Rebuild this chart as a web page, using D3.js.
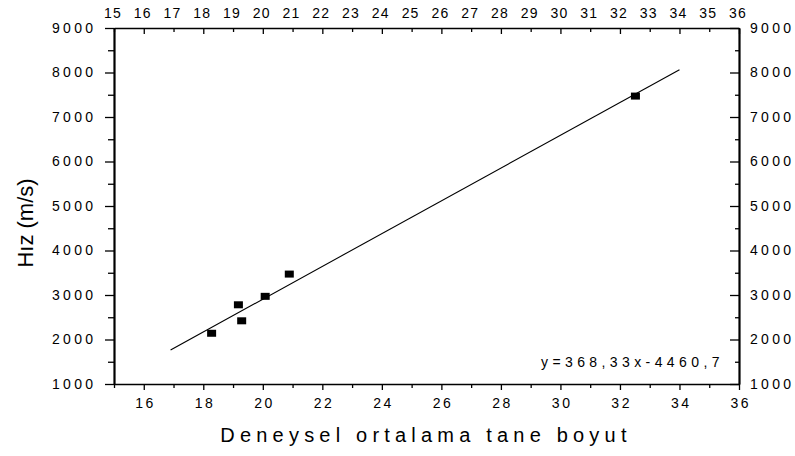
<!DOCTYPE html>
<html>
<head>
<meta charset="utf-8">
<script src="https://cdn.jsdelivr.net/npm/d3@7"></script>
<style>
  html, body { margin: 0; padding: 0; background: #fff; }
  svg { display: block; }
  text { font-family: "Liberation Sans", Arial, sans-serif; fill: #000; }
</style>
</head>
<body>
<svg id="chart" width="795" height="456"></svg>
<script>
// Measured grain size (x) versus velocity (y)
const grainSize = [18.28, 19.18, 19.29, 20.08, 20.89, 32.52];
const velocity  = [2140, 2780, 2420, 2970, 3470, 7470];

// Linear fit y = a*x + b, drawn over the fitted range
const fitSlope = 368.33;
const fitIntercept = -4460.7;
const fitRange = [16.9, 34.0];
const fitLabel = "y=368,33x-4460,7";

// Axis ticks
const xMajorTicks = [16, 18, 20, 22, 24, 26, 28, 30, 32, 34, 36];
const xMinorTicks = [15, 17, 19, 21, 23, 25, 27, 29, 31, 33, 35];
const xTopTicks = d3.range(15, 37);
const yMajorTicks = [1000, 2000, 3000, 4000, 5000, 6000, 7000, 8000, 9000];
const yMinorTicks = [1500, 2500, 3500, 4500, 5500, 6500, 7500, 8500];

const xTitle = "Deneysel ortalama tane boyut";
const yTitle = "Hız (m/s)";

const svg = d3.select("#chart");
const plotLeft = 114, plotRight = 739, plotTop = 28, plotBottom = 384;

const x = d3.scaleLinear().domain([15, 36]).range([plotLeft, plotRight]);
const y = d3.scaleLinear().domain([1000, 9000]).range([plotBottom, plotTop]);

const FONT = "Liberation Sans, Arial, sans-serif";

function styleAxis(g, width) {
  g.select(".domain").attr("stroke", "#000").attr("stroke-width", width);
  g.selectAll(".tick line").attr("stroke", "#000").attr("stroke-width", 1.3);
}
function minorOnly(g) {
  g.select(".domain").remove();
  g.selectAll(".tick line").attr("stroke", "#000").attr("stroke-width", 1.3);
}

// Bottom axis: minor ticks, then major ticks with labels
svg.append("g").attr("transform", `translate(0,${plotBottom})`)
  .call(d3.axisBottom(x).tickValues(xMinorTicks).tickSize(4).tickFormat(""))
  .call(minorOnly);
svg.append("g").attr("transform", `translate(0,${plotBottom})`)
  .call(d3.axisBottom(x).tickValues(xMajorTicks).tickSize(6).tickSizeOuter(0).tickPadding(8).tickFormat(d3.format("d")))
  .call(g => styleAxis(g, 1.6))
  .call(g => g.selectAll(".tick text")
    .attr("font-size", 14).attr("letter-spacing", "2.5px")
    .attr("dx", "1.2px").attr("font-family", FONT));

// Top axis: ticks point into the plot, a label at every integer
svg.append("g").attr("transform", `translate(0,${plotTop})`)
  .call(d3.axisTop(x).tickValues(xTopTicks).tickSizeOuter(0).tickSize(0).tickPadding(10).tickFormat(d3.format("d")))
  .call(g => styleAxis(g, 1.4))
  .call(g => g.selectAll(".tick text")
    .attr("font-size", 14).attr("letter-spacing", "1.2px").attr("dx", "-1.5px")
    .attr("font-family", FONT))
  .call(g => g.selectAll(".tick").append("line")
    .attr("stroke", "#000").attr("stroke-width", 1.3)
    .attr("y2", d => (d % 2 === 0 ? 6 : 4)));

// Left axis
svg.append("g").attr("transform", `translate(${plotLeft},0)`)
  .call(d3.axisLeft(y).tickValues(yMinorTicks).tickSize(6).tickFormat(""))
  .call(minorOnly);
svg.append("g").attr("transform", `translate(${plotLeft},0)`)
  .call(d3.axisLeft(y).tickValues(yMajorTicks).tickSize(9).tickSizeOuter(0).tickPadding(12).tickFormat(d3.format("d")))
  .call(g => styleAxis(g, 2.2))
  .call(g => g.selectAll(".tick text")
    .attr("font-size", 14).attr("letter-spacing", "3.3px").attr("dx", "3.3px")
    .attr("font-family", FONT));

// Right axis: ticks point into the plot
svg.append("g").attr("transform", `translate(${plotRight},0)`)
  .call(d3.axisLeft(y).tickValues(yMinorTicks).tickSize(4).tickFormat(""))
  .call(minorOnly);
svg.append("g").attr("transform", `translate(${plotRight},0)`)
  .call(d3.axisRight(y).tickValues(yMajorTicks).tickSize(0).tickSizeOuter(0).tickPadding(11).tickFormat(d3.format("d")))
  .call(g => styleAxis(g, 2.2))
  .call(g => g.selectAll(".tick text")
    .attr("font-size", 14).attr("letter-spacing", "3.3px")
    .attr("font-family", FONT))
  .call(g => g.selectAll(".tick").append("line")
    .attr("stroke", "#000").attr("stroke-width", 1.3).attr("x2", -9));

// Fitted line
const fitData = fitRange.map(v => [v, fitSlope * v + fitIntercept]);
svg.append("path")
  .datum(fitData)
  .attr("fill", "none").attr("stroke", "#000").attr("stroke-width", 1.1)
  .attr("d", d3.line().x(d => x(d[0])).y(d => y(d[1])));

// Data points (filled squares)
const w = 9, h = 7;
svg.append("g").selectAll("rect")
  .data(grainSize.map((g, i) => [g, velocity[i]]))
  .join("rect")
  .attr("x", d => x(d[0]) - w / 2)
  .attr("y", d => y(d[1]) - h / 2)
  .attr("width", w).attr("height", h)
  .attr("fill", "#000");

// Fit equation
svg.append("text")
  .attr("x", 541).attr("y", 367)
  .attr("font-size", 14).attr("letter-spacing", "4.4px")
  .text(fitLabel);

// Axis titles
svg.append("text")
  .attr("x", 426).attr("y", 442)
  .attr("text-anchor", "middle")
  .attr("font-size", 20).attr("letter-spacing", "5.2px")
  .text(xTitle);

svg.append("text")
  .attr("transform", "translate(33,223) rotate(-90)")
  .attr("text-anchor", "middle")
  .attr("font-size", 22)
  .text(yTitle);
</script>
</body>
</html>
